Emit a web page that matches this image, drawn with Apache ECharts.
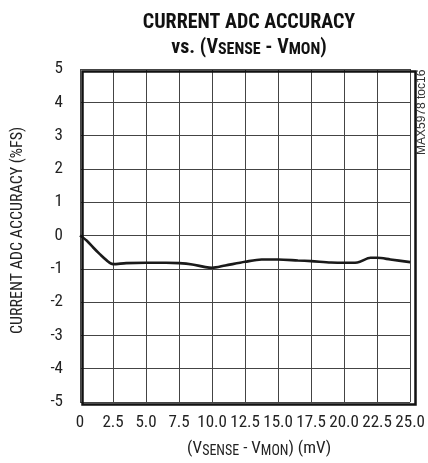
<!DOCTYPE html>
<html>
<head>
<meta charset="utf-8">
<script src="https://cdn.jsdelivr.net/npm/echarts@6/dist/echarts.min.js"></script>
<style>
  html, body { margin: 0; padding: 0; background: #fff; }
  #chart { width: 428px; height: 463px; }
</style>
</head>
<body>
<div id="chart"></div>
<script>
// Sense-to-monitor voltage difference (mV)
const vDiff = [0, 0.5, 1.0, 1.5, 2.0, 2.5, 3.5, 5.0, 6.5, 7.5, 8.5, 9.5, 10.0, 11.0, 12.5, 13.75, 15.0, 16.5, 17.5, 19.0, 20.0, 21.0, 22.0, 22.5, 23.5, 25.0];
// Current ADC accuracy (%FS)
const accuracy = [0, -0.15, -0.36, -0.56, -0.74, -0.86, -0.83, -0.82, -0.82, -0.83, -0.87, -0.95, -0.97, -0.90, -0.79, -0.72, -0.72, -0.75, -0.77, -0.81, -0.82, -0.81, -0.67, -0.67, -0.72, -0.80];
// Tick labels
const xTicks = ['0', '2.5', '5.0', '7.5', '10.0', '12.5', '15.0', '17.5', '20.0', '22.5', '25.0'];
const yTicks = ['-5', '-4', '-3', '-2', '-1', '0', '1', '2', '3', '4', '5'];

const FONT = '"Roboto Condensed", "DejaVu Sans Condensed", sans-serif';
const INK = '#222';

const chart = echarts.init(document.getElementById('chart'), null, { renderer: 'canvas' });
chart.setOption({
  animation: false,
  backgroundColor: '#fff',
  title: {
    left: 244, top: 5, textAlign: 'center',
    text: '{a|CURRENT ADC ACCURACY}\n{a|vs. (V}{s|SENSE}{a| - V}{s|MON}{a|)}',
    textStyle: {
      rich: {
        a: { fontFamily: FONT, fontWeight: 'bold', fontSize: 20, color: '#111', lineHeight: 25 },
        s: { fontFamily: FONT, fontWeight: 'bold', fontSize: 16, color: '#111', lineHeight: 25, padding: [5, 0, 0, 0] }
      }
    }
  },
  grid: { left: 80, right: 15, top: 69, bottom: 61, show: false },
  xAxis: {
    type: 'value', min: 0, max: 25, interval: 2.5,
    axisLine: { show: false },
    axisTick: { show: false },
    splitLine: { show: true, lineStyle: { color: '#444', width: 1 } },
    axisLabel: {
      margin: 12, color: INK, fontFamily: FONT, fontSize: 17,
      formatter: v => xTicks[Math.round(v / 2.5)]
    },
    name: '{a|(V}{s|SENSE}{a| - V}{s|MON}{a|) (mV)}',
    nameLocation: 'middle', nameGap: 37,
    nameTextStyle: {
      padding: [0, 0, 0, 28],
      rich: {
        a: { fontFamily: FONT, fontSize: 17, color: INK },
        s: { fontFamily: FONT, fontSize: 14, color: INK, padding: [5, 0, 0, 0] }
      }
    }
  },
  yAxis: {
    type: 'value', min: -5, max: 5, interval: 1,
    axisLine: { show: false },
    axisTick: { show: false },
    splitLine: { show: true, lineStyle: { color: '#444', width: 1 } },
    axisLabel: {
      margin: 17, color: INK, fontFamily: FONT, fontSize: 17,
      formatter: v => yTicks[Math.round(v + 5)]
    },
    name: 'CURRENT ADC ACCURACY (%FS)',
    nameLocation: 'middle', nameGap: 54, nameRotate: 90,
    nameTextStyle: { fontFamily: FONT, fontSize: 16, color: INK, padding: [0, 0, 0, 10] }
  },
  graphic: [
    {
      type: 'rect', left: 80, top: 69, z: 10, silent: true,
      shape: { width: 333, height: 333 },
      style: { fill: 'none', stroke: '#111', lineWidth: 2.5 }
    },
    {
      type: 'text', x: 416, y: 155, rotation: Math.PI / 2, z: 10,
      style: { text: 'MAX5978 toc16', fontFamily: '"Liberation Sans", sans-serif', fontSize: 12, fill: '#333', textVerticalAlign: 'top' }
    }
  ],
  series: [{
    type: 'line',
    data: vDiff.map((x, i) => [x, accuracy[i]]),
    smooth: 0.3,
    showSymbol: false,
    lineStyle: { color: '#1a1a1a', width: 2.6 }
  }]
});
</script>
</body>
</html>
